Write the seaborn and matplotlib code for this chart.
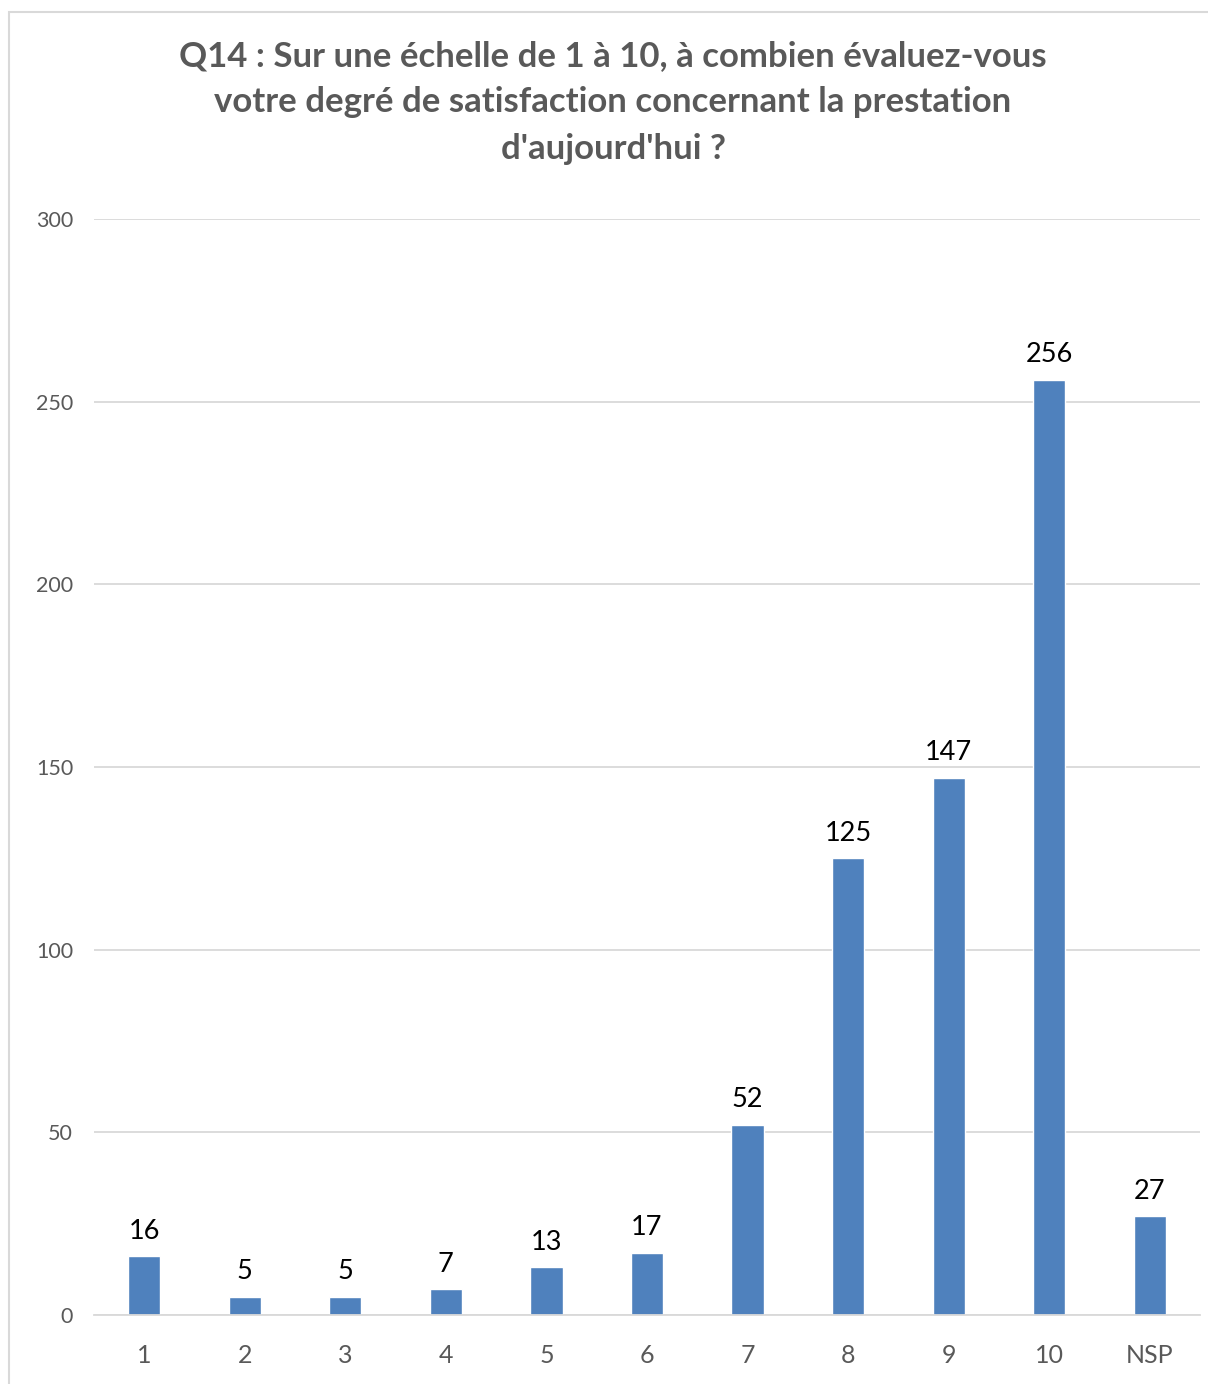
import pandas as pd
import matplotlib
matplotlib.use('Agg')
import matplotlib.pyplot as plt
import seaborn as sns

categories = ['1', '2', '3', '4', '5', '6', '7', '8', '9', '10', 'NSP']
counts = [16, 5, 5, 7, 13, 17, 52, 125, 147, 256, 27]
title = ("Q14 : Sur une échelle de 1 à 10, à combien évaluez-vous\n"
         "votre degré de satisfaction concernant la prestation\n"
         "d'aujourd'hui ?")
yticks = [0, 50, 100, 150, 200, 250, 300]

sns.set_style('white')
plt.rcParams['font.family'] = ['Lato', 'DejaVu Sans']

df = pd.DataFrame({'note': categories, 'n': counts})

fig = plt.figure(figsize=(12.08, 13.84), dpi=100)
ax = fig.add_axes([0.0778, 0.0499, 0.9156, 0.7919])

sns.barplot(data=df, x='note', y='n', order=categories, color='#4F81BD',
            saturation=1, width=0.32, ax=ax)

ax.set_ylim(0, 300)
ax.set_xlim(-0.5, len(categories) - 0.5)
ax.set_yticks(yticks)
ax.yaxis.grid(True, color='#d9d9d9', linewidth=1.3)
ax.set_axisbelow(True)
for s in ['top', 'right', 'left']:
    ax.spines[s].set_visible(False)
ax.spines['bottom'].set_color('#d9d9d9')
ax.spines['bottom'].set_linewidth(1.3)
ax.tick_params(axis='y', length=0, pad=15, labelsize=15.5, labelcolor='#595959')
ax.tick_params(axis='x', length=0, pad=21, labelsize=18, labelcolor='#595959')
ax.set_xlabel(''); ax.set_ylabel('')

for c in ax.containers:
    ax.bar_label(c, fmt='%d', padding=9, fontsize=19.5, color='black')

fig.text(0.5075, 0.971, title, ha='center', va='top', fontsize=25,
         fontweight='bold', color='#595959', linespacing=1.55)

# chart frame
fig.patches.append(plt.Rectangle((9 / 1208, -0.01), 1.1, 1.01 - 12 / 1384,
                                 transform=fig.transFigure, fill=False,
                                 edgecolor='#d9d9d9', linewidth=1.5))

fig.savefig('out.png', dpi=100)
